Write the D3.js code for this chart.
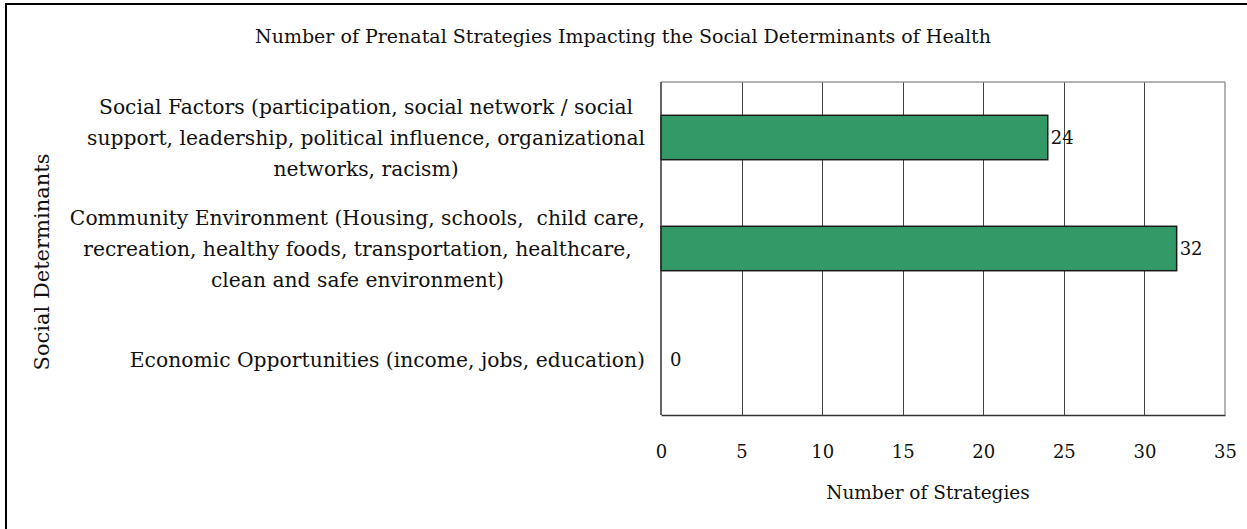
<!DOCTYPE html>
<html>
<head>
<meta charset="utf-8">
<script src="https://cdn.jsdelivr.net/npm/d3@7"></script>
<style>
  html, body { margin: 0; padding: 0; background: #fff; }
  svg text { font-family: "Palatino Linotype", "Book Antiqua", Palatino, "DejaVu Serif", serif; fill: #111; white-space: pre; }
</style>
</head>
<body>
<svg id="chart" width="1247" height="529"></svg>
<script>
// Categories, top to bottom, with their wrapped label lines
const categories = ["Social Factors", "Community Environment", "Economic Opportunities"];
const categoryLines = [
  ["Social Factors (participation, social network / social",
   "support, leadership, political influence, organizational",
   "networks, racism)"],
  ["Community Environment (Housing, schools,  child care,",
   "recreation, healthy foods, transportation, healthcare,",
   "clean and safe environment)"],
  ["Economic Opportunities (income, jobs, education)"]
];
const strategyCounts = [24, 32, 0];
const xTicks = [0, 5, 10, 15, 20, 25, 30, 35];

const chartTitle = "Number of Prenatal Strategies Impacting the Social Determinants of Health";
const xTitle = "Number of Strategies";
const yTitle = "Social Determinants";

const svg = d3.select("#chart");
const labelSize = 20.3;
const titleSize = 19;
const tickSize = 18;

const plot = { left: 661, right: 1225, top: 82, bottom: 415 };

const x = d3.scaleLinear().domain([0, 35]).range([plot.left, plot.right]);
const y = d3.scaleBand().domain(categories).range([plot.top, plot.bottom])
  .paddingInner(0.6).paddingOuter(0.3);

// Outer frame (runs off the right and bottom edges)
svg.append("rect")
  .attr("x", 6).attr("y", 4).attr("width", 1300).attr("height", 600)
  .attr("fill", "#fff").attr("stroke", "#000").attr("stroke-width", 2);

// Title
svg.append("text")
  .attr("x", 623).attr("y", 43)
  .attr("text-anchor", "middle")
  .style("font-size", titleSize + "px")
  .text(chartTitle);

// Vertical gridlines
svg.append("g")
  .selectAll("line")
  .data(xTicks.slice(1, -1))
  .join("line")
  .attr("x1", d => Math.round(x(d)) + 0.5).attr("x2", d => Math.round(x(d)) + 0.5)
  .attr("y1", plot.top).attr("y2", plot.bottom)
  .attr("stroke", "#444").attr("stroke-width", 1);

// Plot frame: top/right light, left/bottom dark
svg.append("line")
  .attr("x1", plot.left).attr("x2", plot.right).attr("y1", plot.top).attr("y2", plot.top)
  .attr("stroke", "#999").attr("stroke-width", 1.5);
svg.append("line")
  .attr("x1", plot.right).attr("x2", plot.right).attr("y1", plot.top).attr("y2", plot.bottom)
  .attr("stroke", "#999").attr("stroke-width", 1.5);

// Bars
svg.append("g")
  .selectAll("rect")
  .data(categories.map((c, i) => ({ c, v: strategyCounts[i] })).filter(d => d.v > 0))
  .join("rect")
  .attr("x", x(0))
  .attr("y", d => y(d.c))
  .attr("width", d => x(d.v) - x(0))
  .attr("height", y.bandwidth())
  .attr("fill", "#339966")
  .attr("stroke", "#1a1a1a")
  .attr("stroke-width", 1.5);

svg.append("line")
  .attr("x1", plot.left).attr("x2", plot.left).attr("y1", plot.top).attr("y2", plot.bottom)
  .attr("stroke", "#333").attr("stroke-width", 1.5);

// X axis along the bottom edge
const xAxis = d3.axisBottom(x).tickValues(xTicks).tickSize(0).tickPadding(30);
const gx = svg.append("g")
  .attr("transform", `translate(0,${plot.bottom})`)
  .call(xAxis);
gx.select(".domain").attr("stroke", "#333").attr("stroke-width", 1.5);
gx.selectAll("text")
  .style("font-size", tickSize + "px")
  .style("font-family", null)
  .attr("fill", "#111");

// Value labels
svg.append("g")
  .selectAll("text")
  .data(categories.map((c, i) => ({ c, v: strategyCounts[i] })))
  .join("text")
  .attr("x", d => x(d.v) + (d.v === 0 ? 9 : 3))
  .attr("y", d => y(d.c) + y.bandwidth() / 2)
  .attr("dy", "0.35em")
  .style("font-size", tickSize + "px")
  .text(d => d.v);

// Category labels: each block right-aligned, its lines centred on one another
const lineGap = 31;
const labelRight = 645;
categoryLines.forEach((lines, i) => {
  const cy = y(categories[i]) + y.bandwidth() / 2;
  const g = svg.append("g");
  const texts = g.selectAll("text")
    .data(lines)
    .join("text")
    .attr("y", (d, j) => cy + (j - (lines.length - 1) / 2) * lineGap)
    .attr("dy", "0.35em")
    .attr("text-anchor", "middle")
    .style("font-size", labelSize + "px")
    .text(d => d);
  let maxW = 0;
  texts.each(function () { maxW = Math.max(maxW, this.getComputedTextLength()); });
  texts.attr("x", labelRight - maxW / 2);
});

// Axis titles
svg.append("text")
  .attr("x", 928).attr("y", 499)
  .attr("text-anchor", "middle")
  .style("font-size", "18.5px")
  .text(xTitle);

svg.append("text")
  .attr("transform", "translate(49,262) rotate(-90)")
  .attr("text-anchor", "middle")
  .style("font-size", "21px")
  .text(yTitle);
</script>
</body>
</html>
